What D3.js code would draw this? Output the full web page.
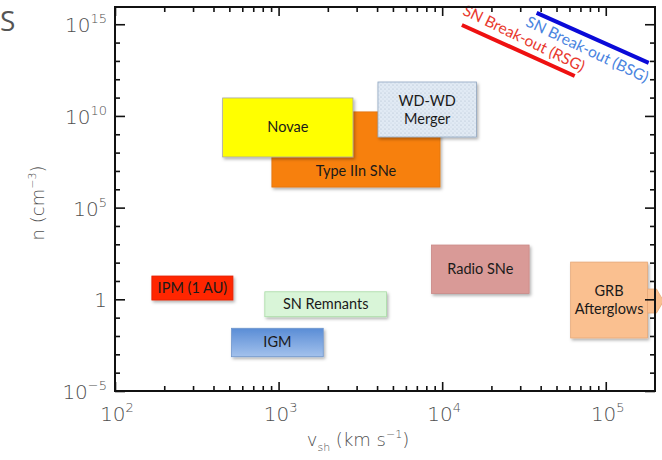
<!DOCTYPE html>
<html>
<head>
<meta charset="utf-8">
<script src="https://cdn.jsdelivr.net/npm/d3@7"></script>
<style>
  body { margin: 0; background: #fff; }
  svg { display: block; }
</style>
</head>
<body>
<svg id="chart"></svg>
<script>
// data (v in km/s, n in cm^-3)
const categories = ["Type IIn SNe", "Novae", "WD-WD Merger", "IPM (1 AU)", "SN Remnants", "IGM", "Radio SNe", "GRB Afterglows"];
const vMin = [910, 455, 4050, 168, 824, 516, 8600, 61000];
const vMax = [9700, 2850, 16200, 526, 4570, 1875, 34000, 180000];
const logNMin = [6.12, 7.76, 8.85, -0.04, -0.95, -3.13, 0.32, -2.11];
const logNMax = [10.22, 10.98, 11.85, 1.27, 0.41, -1.58, 2.96, 2.03];
const boxFill = ["#f7800e", "#ffff00", "url(#dots)", "#ff2600", "#d9f5d8", "url(#igmGrad)", "#d99a97", "#fac090"];
const boxStroke = ["#e07510", "#a6a6a6", "#8fa6c0", "#e02000", "#a8dba5", "#6f96cc", "#c98886", "#e6a877"];

// SN break-out lines
const lineNames = ["SN Break-out (RSG)", "SN Break-out (BSG)"];
const lineV = [[13200, 64600], [37800, 183000]];
const lineLogN = [[14.96, 12.18], [15.62, 12.89]];
const lineColor = ["#ee1111", "#0a0ad8"];
const lineTextColor = ["#e8382e", "#4a84e0"];

// ticks
const xLabelExps = [2, 3, 4, 5];
const yLabelExps = [15, 10, 5, 0, -5];

const width = 662, height = 460;
const margin = {top: 7, right: 7, bottom: 69, left: 115};
const x0 = margin.left, x1 = width - margin.right;
const y0 = height - margin.bottom, y1 = margin.top;

const svg = d3.select("#chart").attr("width", width).attr("height", height);

const x = d3.scaleLog().domain([100, 2e5]).range([x0, x1]);
const y = d3.scaleLog().domain([1e-5, Math.pow(10, 15.94)]).range([y0, y1]);

const defs = svg.append("defs");
const shadow = defs.append("filter").attr("id", "shadow").attr("x", "-10%").attr("y", "-10%").attr("width", "130%").attr("height", "140%");
shadow.append("feDropShadow").attr("dx", 1.5).attr("dy", 2).attr("stdDeviation", 1.5)
  .attr("flood-color", "#000").attr("flood-opacity", 0.3);

const pat = defs.append("pattern").attr("id", "dots").attr("patternUnits", "userSpaceOnUse")
  .attr("width", 4).attr("height", 4);
pat.append("rect").attr("width", 4).attr("height", 4).attr("fill", "#e1eaf4");
pat.append("circle").attr("cx", 1).attr("cy", 1).attr("r", 0.6).attr("fill", "#a9b9cc");
pat.append("circle").attr("cx", 3).attr("cy", 3).attr("r", 0.5).attr("fill", "#bccadb");

const grad = defs.append("linearGradient").attr("id", "igmGrad").attr("x1", 0).attr("y1", 0).attr("x2", 0).attr("y2", 1);
grad.append("stop").attr("offset", "0%").attr("stop-color", "#5a8dd6");
grad.append("stop").attr("offset", "100%").attr("stop-color", "#a3c1ec");

// stray title letter at the top-left
svg.append("text").attr("x", 0).attr("y", 31)
  .style("font-family", "'Open Sans', sans-serif").style("font-size", "28px").style("fill", "#555")
  .text("S");

// boxes
const boxes = categories.map((c, i) => ({
  name: c,
  x: x(vMin[i]), w: x(vMax[i]) - x(vMin[i]),
  y: y(Math.pow(10, logNMax[i])), h: y(Math.pow(10, logNMin[i])) - y(Math.pow(10, logNMax[i])),
  fill: boxFill[i], stroke: boxStroke[i]
}));

const gb = svg.append("g");
gb.selectAll("rect.box").data(boxes).enter().append("rect")
  .attr("class", "box")
  .attr("x", d => d.x).attr("y", d => d.y)
  .attr("width", d => d.w).attr("height", d => d.h)
  .attr("fill", d => d.fill).attr("stroke", d => d.stroke).attr("stroke-width", 0.8)
  .attr("filter", "url(#shadow)");

// GRB arrow pointing off the chart
const grb = boxes[7];
const ay = grb.y + grb.h / 2 + 1;
svg.append("path")
  .attr("d", `M${grb.x + grb.w},${ay - 12} L${grb.x + grb.w + 9},${ay - 12} L${grb.x + grb.w + 16},${ay} L${grb.x + grb.w + 9},${ay + 12} L${grb.x + grb.w},${ay + 12} Z`)
  .attr("fill", "#fac090").attr("stroke", "#e6a877").attr("stroke-width", 0.8);

// box labels
gb.selectAll("text.lbl").data(boxes).enter().append("text")
  .attr("class", "lbl")
  .attr("text-anchor", "middle")
  .style("font-family", "Lato, 'Open Sans', sans-serif")
  .style("font-size", "14.5px").style("fill", "#1a1a1a")
  .each(function(d) {
    const t = d3.select(this);
    const cx = d.x + d.w / 2;
    let cy = d.y + d.h / 2;
    if (d.name === "Type IIn SNe") cy = d.y + d.h - 16;
    const parts = d.name === "WD-WD Merger" ? ["WD-WD", "Merger"]
      : d.name === "GRB Afterglows" ? ["GRB", "Afterglows"] : [d.name];
    const lh = 18;
    parts.forEach((p, k) => {
      t.append("tspan").attr("x", cx)
        .attr("y", cy + 5 + (k - (parts.length - 1) / 2) * lh)
        .text(p);
    });
  });

// break-out lines with rotated labels
lineNames.forEach((name, i) => {
  const xa = x(lineV[i][0]), ya = y(Math.pow(10, lineLogN[i][0]));
  const xb = x(lineV[i][1]), yb = y(Math.pow(10, lineLogN[i][1]));
  svg.append("line").attr("x1", xa).attr("y1", ya).attr("x2", xb).attr("y2", yb)
    .attr("stroke", lineColor[i]).attr("stroke-width", 4);
  const ang = Math.atan2(yb - ya, xb - xa);
  const side = i === 0 ? -1 : 1;
  const off = 7;
  const mx = (xa + xb) / 2 - side * Math.sin(ang) * off;
  const my = (ya + yb) / 2 + side * Math.cos(ang) * off;
  svg.append("text")
    .attr("transform", `translate(${mx},${my}) rotate(${ang * 180 / Math.PI + 1.5})`)
    .attr("text-anchor", "middle")
    .attr("dy", i === 0 ? -1 : 11)
    .style("font-family", "Lato, 'Open Sans', sans-serif").style("font-size", "15.5px")
    .style("fill", lineTextColor[i])
    .text(name);
});

// tick positions
const xMinor = [];
for (let e = 2; e <= 5; e++) for (let m = 2; m <= 9; m++) {
  const v = m * Math.pow(10, e);
  if (v < 2e5) xMinor.push(v);
}
const xMajor = xLabelExps.map(e => Math.pow(10, e));
const yMinor = d3.range(-5, 16).filter(e => e % 5 !== 0).map(e => Math.pow(10, e));
const yMajor = yLabelExps.map(e => Math.pow(10, e));

const axes = svg.append("g").attr("class", "axes");
function tickGroup(axisFn, scale, vals, size, tr) {
  const g = axes.append("g").attr("transform", tr)
    .call(axisFn(scale).tickValues(vals).tickSize(-size).tickFormat(""));
  g.select(".domain").remove();
  g.selectAll(".tick line").attr("stroke", "#111").attr("stroke-width", 1.6);
  return g;
}
tickGroup(d3.axisBottom, x, xMinor, 5, `translate(0,${y0})`);
tickGroup(d3.axisBottom, x, xMajor, 9, `translate(0,${y0})`);
tickGroup(d3.axisTop, x, xMinor, 5, `translate(0,${y1})`);
tickGroup(d3.axisTop, x, xMajor, 9, `translate(0,${y1})`);
tickGroup(d3.axisLeft, y, yMinor, 5, `translate(${x0},0)`);
tickGroup(d3.axisLeft, y, yMajor, 10, `translate(${x0},0)`);
tickGroup(d3.axisRight, y, yMinor, 5, `translate(${x1},0)`);
tickGroup(d3.axisRight, y, yMajor, 10, `translate(${x1},0)`);

// frame
svg.append("rect").attr("x", x0).attr("y", y1).attr("width", x1 - x0).attr("height", y0 - y1)
  .attr("fill", "none").attr("stroke", "#111").attr("stroke-width", 2);

// tick labels
const tickFont = "'DejaVu Sans', sans-serif";
function powLabel(sel, e) {
  if (e === 0) { sel.append("tspan").text("1"); return; }
  sel.append("tspan").text("10");
  sel.append("tspan").attr("dy", -9).style("font-size", "13px")
    .text(e < 0 ? "\u2212" + (-e) : String(e));
}
axes.selectAll("text.xl").data(xLabelExps).enter().append("text")
  .attr("class", "xl")
  .attr("x", d => x(Math.pow(10, d)) + 2).attr("y", 421)
  .attr("text-anchor", "middle")
  .style("font-family", tickFont).style("font-size", "20px").style("font-weight", 200).style("fill", "#505050")
  .each(function(d) { powLabel(d3.select(this), d); });
axes.selectAll("text.yl").data(yLabelExps).enter().append("text")
  .attr("class", "yl")
  .attr("x", x0 - 8).attr("y", d => y(Math.pow(10, d)) + 8)
  .attr("text-anchor", "end")
  .style("font-family", tickFont).style("font-size", "20px").style("font-weight", 200).style("fill", "#505050")
  .each(function(d) { powLabel(d3.select(this), d); });

// axis titles
const xt = svg.append("text").attr("x", 358).attr("y", 446).attr("text-anchor", "middle")
  .style("font-family", tickFont).style("font-size", "18px").style("font-weight", 200).style("fill", "#505050");
xt.append("tspan").text("v");
xt.append("tspan").attr("dy", 5).style("font-size", "11px").text("sh");
xt.append("tspan").attr("dy", -5).text(" (km s");
xt.append("tspan").attr("dy", -8).style("font-size", "11px").text("\u22121");
xt.append("tspan").attr("dy", 8).text(")");

const yt = svg.append("text").attr("transform", "translate(44,203) rotate(-90)").attr("text-anchor", "middle")
  .style("font-family", tickFont).style("font-size", "18px").style("font-weight", 200).style("fill", "#505050");
yt.append("tspan").text("n (cm");
yt.append("tspan").attr("dy", -8).style("font-size", "11px").text("\u22123");
yt.append("tspan").attr("dy", 8).text(")");
</script>
</body>
</html>
